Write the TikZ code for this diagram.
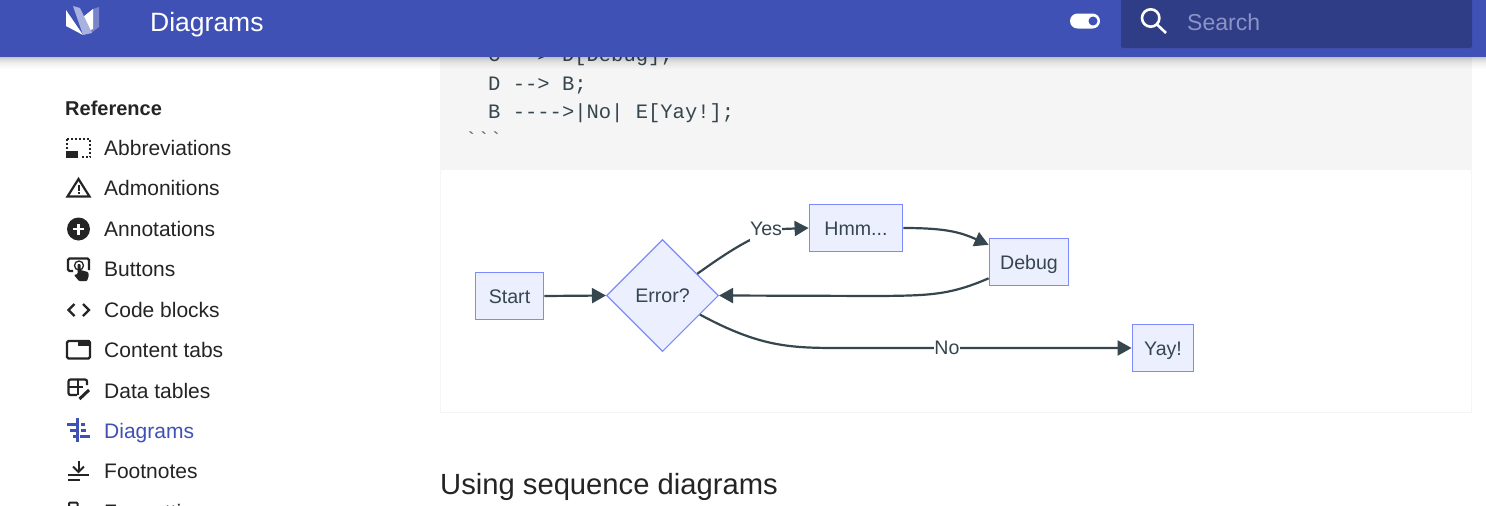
\documentclass[tikz,border=0pt]{standalone}
\usepackage{fontspec}
\setmainfont{Liberation Sans}
\setmonofont{Liberation Mono}
\usetikzlibrary{arrows.meta,shapes.geometric}
\definecolor{hdr}{HTML}{4051B5}
\definecolor{srch}{HTML}{2F3C86}
\definecolor{ph}{HTML}{8B94C6}
\definecolor{codebg}{HTML}{F5F5F5}
\definecolor{ink}{HTML}{36464E}
\definecolor{side}{HTML}{242424}
\definecolor{nodefill}{HTML}{ECF0FE}
\definecolor{nodeline}{HTML}{7B8AFF}
\definecolor{edgec}{HTML}{36464E}
\newcommand{\fs}[1]{\fontsize{#1}{#1}\selectfont}
\tikzset{
  x=1pt,y=-1pt,
  sideitem/.style={anchor=base west,inner sep=0pt,text=side,font=\fs{21}},
  boxnode/.style={draw=nodeline,fill=nodefill,line width=1.3pt,inner sep=0pt,text=ink,font=\fs{19.6},text height=16pt,text depth=2pt},
  diam/.style={diamond,aspect=1,draw=nodeline,fill=nodefill,line width=1.1pt,inner sep=0pt,minimum width=112pt,minimum height=112pt,text=ink,font=\fs{19.6},text height=16pt,text depth=2pt},
  edgeline/.style={draw=edgec,line width=2.2pt,-{Triangle[length=14pt,width=15pt]}},
  edgelabel/.style={fill=white,inner sep=0pt,text=ink,font=\fs{19.6},text height=16pt,text depth=6pt},
  codeline/.style={anchor=base west,inner sep=0pt,text=ink,font=\ttfamily\fs{20.5}},
  icon/.style={draw=side,line width=2.2pt},
}
\begin{document}
\begin{tikzpicture}
\useasboundingbox (0,0) rectangle (1486,506);
\fill[white] (0,0) rectangle (1486,506);
\begin{scope}
\clip (0,0) rectangle (1486,506);
% code block
\fill[codebg] (440,40) rectangle (1472,169.5);
\draw[codebg,line width=1pt] (440.5,169.5) rectangle (1471.5,412);
\node[codeline] (l1) at (488,61) {C --> D[Debug];};
\node[codeline] (l2) at (488,90) {D --> B;};
\node[codeline] (l3) at (488,118) {B ---->|No| E[Yay!];};
\node[codeline,text=side!70] (l4) at (465,146) {```};
% flowchart
\node[boxnode,minimum width=68.5pt,minimum height=47.5pt] (start) at (509.5,296) {Start};
\node[diam] (err) at (662.5,295.5) {Error?};
\node[boxnode,minimum width=93.5pt,minimum height=47.5pt] (hmm) at (856,228) {Hmm...};
\node[boxnode,minimum width=79.5pt,minimum height=47.5pt] (debug) at (1029,262) {Debug};
\node[boxnode,minimum width=61.5pt,minimum height=47.5pt] (yay) at (1163,348) {Yay!};
\draw[edgeline] (start.east) -- (err.west);
\draw[edgeline] (err.32) .. controls (725,254) and (757,232) .. (782,229) -- (hmm.west);
\draw[edgeline] (hmm.east) .. controls (945,228) and (960,232) .. (debug.157);
\draw[edgeline] (debug.202) .. controls (950,295) and (930,295.5) .. (880,296) -- (err.east);
\draw[edgeline] (err.-27.5) .. controls (760,347) and (790,348) .. (840,348) -- (yay.west);
\node[edgelabel] (yes) at (766,230) {Yes};
\node[edgelabel] (no) at (947,349) {No};
% heading
\node[anchor=base west,inner sep=0pt,text=side,font=\fs{29.2}] (h2) at (440,494) {Using sequence diagrams};
% sidebar
\node[sideitem,font=\bfseries\fs{20}] (ref) at (65,115) {Reference};
\node[sideitem] (s1) at (104,155) {Abbreviations};
\node[sideitem] (s2) at (104,195) {Admonitions};
\node[sideitem] (s3) at (104,236) {Annotations};
\node[sideitem] (s4) at (104,276) {Buttons};
\node[sideitem] (s5) at (104,317) {Code blocks};
\node[sideitem] (s6) at (104,357) {Content tabs};
\node[sideitem] (s7) at (104,398) {Data tables};
\node[sideitem,text=hdr] (s8) at (104,438) {Diagrams};
\node[sideitem] (s9) at (104,478) {Footnotes};
\node[sideitem] (s10) at (104,519) {Formatting};
% icons
\draw[side,line width=2pt,dash pattern=on 2pt off 2pt] (67,138.5) -- (90,138.5) -- (90,157) -- (80,157);
\draw[side,line width=2pt,dash pattern=on 2pt off 2pt] (67,138.5) -- (67,150);
\fill[side] (66,151) rectangle (78,158);
\draw[icon,line join=miter] (78.5,179) -- (67.5,196.5) -- (89.5,196.5) -- cycle;
\fill[side] (77.5,185) rectangle (79.5,191);
\fill[side] (77.5,192) rectangle (79.5,194);
\fill[side] (78.5,229) circle (11.5);
\fill[white] (73,228) rectangle (84,230.2);
\fill[white] (77.4,223.5) rectangle (79.6,234.5);
% buttons icon
\draw[icon,rounded corners=1.5pt] (73,271) -- (68,271) -- (68,258.5) -- (89,258.5) -- (89,270);
\draw[side,line width=1.3pt] (79,265.5) circle (4.5);
\fill[side,rounded corners=0.8pt] (77.5,264) -- (80.5,264) -- (80.5,270) -- (88,272) -- (89,275) -- (87,281) -- (79,281) -- (74,275) -- (77.5,274) -- cycle;
% code icon
\draw[icon] (74.5,304) -- (68.5,310) -- (74.5,316);
\draw[icon] (83,304) -- (89,310) -- (83,316);
% tabs icon
\draw[icon,rounded corners=1.5pt] (67,341) rectangle (90,358.5);
\fill[side] (78,340) rectangle (90,346);
% tables icon
\draw[icon,rounded corners=2pt] (77,395) -- (68.5,395) -- (68.5,379.5) -- (87,379.5) -- (87,385);
\draw[side,line width=2pt] (68.5,387) -- (83,387);
\draw[side,line width=2pt] (77.5,379.5) -- (77.5,395);
\draw[white,line width=5.5pt] (79,399) -- (88,390);
\draw[side,line width=3pt] (79.5,399) -- (89,390);
% diagrams icon
\draw[hdr,line width=2.7pt] (77.5,418) -- (77.5,442);
\fill[hdr] (67,423) rectangle (77,426);
\fill[hdr] (70,429) rectangle (77,432);
\fill[hdr] (73,435) rectangle (77,438);
\fill[hdr] (81,423) rectangle (85,426);
\fill[hdr] (81,429) rectangle (86,432);
\fill[hdr] (80,435) rectangle (90,438);
% footnotes icon
\draw[side,line width=2pt] (78.5,461) -- (78.5,471);
\draw[side,line width=2pt] (73,466.5) -- (78.5,472) -- (84,466.5);
\draw[side,line width=2pt] (68,475) -- (89,475);
\draw[side,line width=2pt] (68,480) -- (80,480);
\draw[side,line width=2pt,rounded corners=1pt] (69,512) rectangle (77.5,502.5);
% header shadow
\foreach \i/\o in {0/.22,1/.18,2/.15,3/.12,4/.10,5/.08,6/.06,7/.05,8/.04,9/.03,10/.02,11/.01}{
  \fill[black,opacity=\o] (0,57+\i) rectangle (1486,58+\i);
}
% header
\fill[hdr] (0,0) rectangle (1486,57);
\fill[srch,rounded corners=2pt] (1121,-5) rectangle (1472,48);
\node[anchor=base west,inner sep=0pt,text=white,font=\fs{26.5}] (title) at (150,31) {Diagrams};
\node[anchor=base west,inner sep=0pt,text=ph,font=\fs{23}] (search) at (1187,30) {Search};
% logo
\fill[white] (66,10) -- (83,35) -- (66,26) -- cycle;
\fill[white!30!hdr] (93,9) -- (99,7) -- (99,27) -- (91,33) -- cycle;
\fill[white] (83,17) -- (93,9) -- (93,29) -- (88,31) -- cycle;
\fill[white!55!hdr] (73,6) -- (80,8) -- (92,33) -- (83,35) -- cycle;
% toggle
\fill[white,rounded corners=7.5pt] (1070,13.5) rectangle (1100,28.5);
\fill[hdr] (1093,21) circle (4.5);
% magnifier
\draw[white,line width=2.6pt] (1150.7,18) circle (8.7);
\draw[white,line width=2.6pt] (1157,24.5) -- (1166,33);
\end{scope}
\end{tikzpicture}
\end{document}
